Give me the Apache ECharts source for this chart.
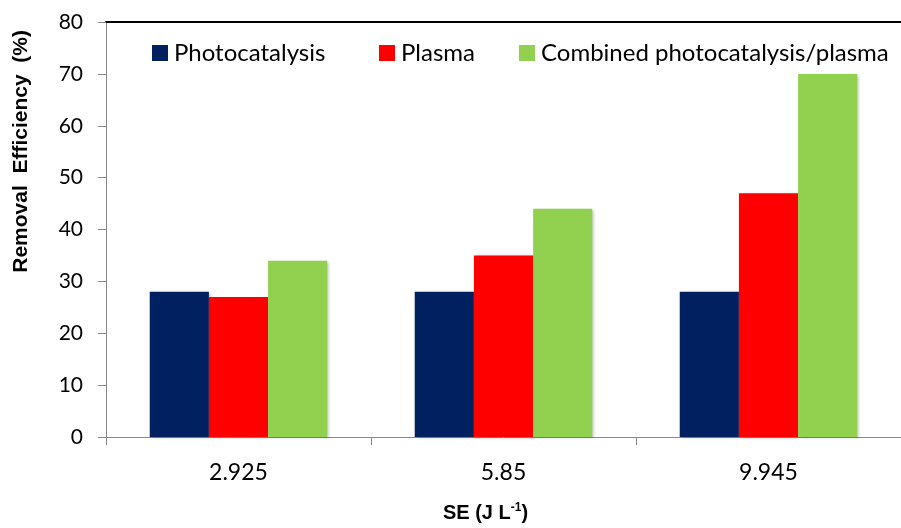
<!DOCTYPE html>
<html><head><meta charset="utf-8">
<script src="https://cdn.jsdelivr.net/npm/echarts@6/dist/echarts.min.js"></script>
<style>html,body{margin:0;padding:0;background:#fff}#c{width:901px;height:528px}</style>
</head><body><div id="c"></div>
<script>
const categories = ['2.925', '5.85', '9.945'];
const seriesNames = ['Photocatalysis', 'Plasma', 'Combined photocatalysis/plasma'];
const photocatalysis = [28, 28, 28];
const plasma = [27, 35, 47];
const combined = [34, 44, 70];
const yTicks = [0, 10, 20, 30, 40, 50, 60, 70, 80];

const chart = echarts.init(document.getElementById('c'), null, {renderer: 'canvas'});
const font = 'Lato, "Open Sans", sans-serif';
const barStyle = (c) => ({color: c, shadowColor: 'rgba(0,0,0,0.25)', shadowBlur: 3, shadowOffsetX: 2, shadowOffsetY: 1});
const legendLefts = [147, 374, 514];
chart.setOption({
  animation: false,
  grid: {left: 106, right: 0, top: 22, bottom: 89},
  legend: seriesNames.map((n, i) => ({
    left: legendLefts[i], top: 36, itemWidth: 16, itemHeight: 16,
    icon: 'rect',
    textStyle: {fontFamily: font, fontSize: 24, color: '#000', padding: [0,0,0,1]},
    data: [n]
  })),
  graphic: [{
    type: 'text', left: 11, top: 30,
    style: {text: 'Removal  Efficiency  (%)', fontFamily: 'Liberation Sans, Arial', fontWeight: 'bold', fontSize: 21, fill: '#000'},
    rotation: Math.PI / 2, originX: 0, originY: 0
  }],
  xAxis: [{
    type: 'category', data: categories,
    axisLine: {lineStyle: {color: '#888', width: 1}},
    axisTick: {show: true, length: 8, lineStyle: {color: '#888'}},
    axisLabel: {fontFamily: font, fontSize: 23, color: '#000', margin: 24},
    name: 'SE (J L{sup|-1})', nameLocation: 'middle', nameGap: 65,
    nameTextStyle: {fontFamily: 'Liberation Sans, Arial', fontWeight: 'bold', fontSize: 20, color: '#000', padding: [0, 36, 0, 0],
      rich: {sup: {fontSize: 12, fontWeight: 'bold', verticalAlign: 'top', padding: [0,0,10,0], fontFamily: 'Liberation Sans'}}}
  }, {
    type: 'category', data: categories, position: 'top',
    axisLine: {show: true, lineStyle: {color: '#000', width: 2}},
    axisTick: {show: false}, axisLabel: {show: false}
  }],
  yAxis: {
    type: 'value', min: 0, max: 80, interval: 10,
    axisLine: {show: true, lineStyle: {color: '#888', width: 1}},
    axisTick: {show: true, length: 8, lineStyle: {color: '#888'}},
    splitLine: {show: false},
    axisLabel: {fontFamily: font, fontSize: 21, color: '#000', margin: 23,
      formatter: (v) => yTicks.includes(v) ? String(v) : ''}
  },
  series: [
    {name: seriesNames[0], type: 'bar', data: photocatalysis, barGap: '0%', barCategoryGap: '33%', itemStyle: barStyle('#002060')},
    {name: seriesNames[1], type: 'bar', data: plasma, barGap: '0%', barCategoryGap: '33%', itemStyle: barStyle('#ff0000')},
    {name: seriesNames[2], type: 'bar', data: combined, barGap: '0%', barCategoryGap: '33%', itemStyle: barStyle('#92d050')}
  ]
});
</script></body></html>
